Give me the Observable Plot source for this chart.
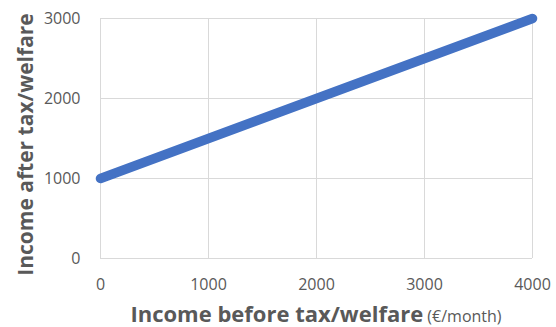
<!DOCTYPE html>
<html><head><meta charset="utf-8">
<script src="https://cdn.jsdelivr.net/npm/d3@7"></script>
<script src="https://cdn.jsdelivr.net/npm/@observablehq/plot@0.6"></script>
<style>
body{margin:0;background:#fff;}
#chart svg{display:block;}
</style></head>
<body><div id="chart"></div>
<script>
const incomeBefore = [0, 4000];
const incomeAfter = [1000, 3000];
const xTicks = [0, 1000, 2000, 3000, 4000];
const yTicks = [0, 1000, 2000, 3000];
const xTitle = "Income before tax/welfare";
const xUnit = "(€/month)";
const yTitle = "Income after tax/welfare";

const data = incomeBefore.map((x, i) => ({x, y: incomeAfter[i]}));
const font = "'Open Sans', sans-serif";
const grid = "#d9d9d9";
const txt = "#595959";

const plot = Plot.plot({
  width: 556, height: 327,
  marginLeft: 100, marginRight: 24, marginTop: 18, marginBottom: 69,
  style: {fontFamily: font, background: "#fff", overflow: "visible"},
  x: {domain: [0, 4000], ticks: xTicks},
  y: {domain: [0, 3000], ticks: yTicks},
  marks: [
    Plot.gridX(xTicks, {stroke: grid, strokeOpacity: 1, strokeWidth: 1}),
    Plot.gridY(yTicks, {stroke: grid, strokeOpacity: 1, strokeWidth: 1}),
    Plot.axisX(xTicks, {tickSize: 0, tickPadding: 20, fontSize: 16, fill: txt, label: null, tickFormat: d => String(d)}),
    Plot.axisY(yTicks, {tickSize: 0, tickPadding: 20, fontSize: 16, fill: txt, label: null, tickFormat: d => String(d)}),
    Plot.line(data, {x: "x", y: "y", stroke: "#4472C4", strokeWidth: 9.5, strokeLinecap: "round"}),
    Plot.text([yTitle], {frameAnchor: "left", dx: -74, dy: 6, rotate: -90, textAnchor: "middle", fontSize: 21, fontWeight: "bold", fill: txt, text: d => d})
  ]
});
document.getElementById("chart").appendChild(plot);

const svg = d3.select(plot);
const xs = plot.scale("x");
const t = svg.append("text")
  .attr("x", xs.apply(2000))
  .attr("y", 322)
  .attr("text-anchor", "middle")
  .attr("fill", txt)
  .attr("font-family", font);
t.append("tspan").attr("font-size", 22).attr("font-weight", "bold").text(xTitle);
t.append("tspan").attr("font-size", 16).text(" " + xUnit);
</script>
</body></html>
